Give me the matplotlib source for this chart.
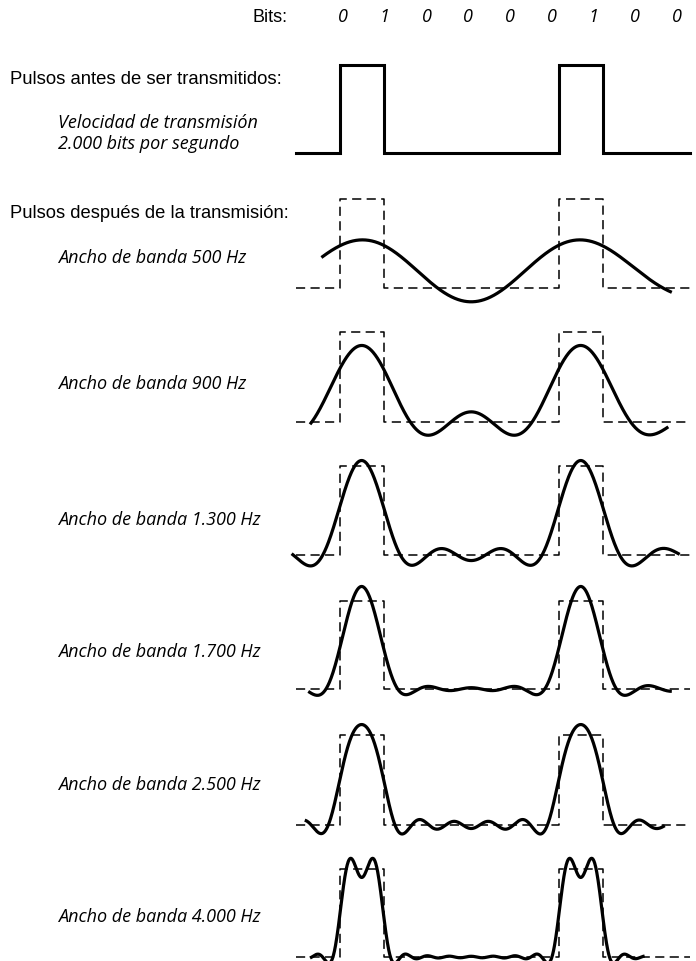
import matplotlib.pyplot as plt
import numpy as np

# data
bits = [0, 1, 0, 0, 0, 0, 1, 0, 0]
bit_rate = 2000                      # bits per second -> 0.5 ms per bit
bandwidths = [500, 900, 1300, 1700, 2500, 4000]
bw_labels = ['500', '900', '1.300', '1.700', '2.500', '4.000']
curve_start_ms = [0.29, 0.16, -0.05, 0.14, 0.10, 0.16]
curve_end_ms = [4.29, 4.25, 4.38, 4.29, 4.21, 3.98]

W, H = 696, 962
fig = plt.figure(figsize=(W / 100, H / 100), dpi=100)

sans = 'Liberation Sans'
ital = 'Open Sans'

bit_ms = 1000.0 / bit_rate

# layout in pixels (top of pulse, baseline) for each row
rows_px = [(66, 154), (200, 289), (333, 423), (467, 556),
           (602, 690), (736, 826), (870, 958)]
label_y_px = [258, 384, 520, 652, 785, 917]
x0_px = 296
px_per_ms = 87.6
t_left = -x0_px / px_per_ms
t_right = (W - x0_px) / px_per_ms

# sine integral Si(x) by cumulative trapezoid
_u = np.linspace(0, 300, 300001)
_f = np.sinc(_u / np.pi)
_si = np.concatenate([[0], np.cumsum((_f[1:] + _f[:-1]) / 2 * np.diff(_u))])


def Si(x):
    return np.sign(x) * np.interp(np.abs(x), _u, _si)


def row_axes(top, base):
    h = base - top
    lo, hi = -0.45, 1.45
    y0 = base + (-lo) * h
    y1 = base - hi * h
    ax = fig.add_axes([0, 1 - y0 / H, 1, (y0 - y1) / H])
    ax.set_xlim(t_left, t_right)
    ax.set_ylim(lo, hi)
    ax.axis('off')
    return ax


def bandlimited(t, bw):
    # bit string passed through an ideal low-pass channel of bandwidth bw
    k = 2 * np.pi * bw / 1000.0      # t in ms
    s = np.zeros_like(t)
    for j, b in enumerate(bits):
        if b:
            a = j * bit_ms
            s += (Si(k * (t - a)) - Si(k * (t - a - bit_ms))) / np.pi
    return s


sq_x = np.arange(len(bits) + 1) * bit_ms
sq_y = bits + [bits[-1]]

# original pulses
ax0 = row_axes(*rows_px[0])
ax0.step(sq_x, sq_y, where='post', color='black', lw=2.2, solid_joinstyle='miter')

for i, bw in enumerate(bandwidths):
    ax = row_axes(*rows_px[i + 1])
    ax.step(sq_x, sq_y, where='post', color='black', lw=1.1, linestyle=(0, (6, 3.5)))
    t = np.linspace(curve_start_ms[i], curve_end_ms[i], 1000)
    ax.plot(t, bandlimited(t, bw), color='black', lw=2.3, solid_capstyle='butt')
    fig.text(58 / W, 1 - label_y_px[i] / H,
             'Ancho de banda %s Hz' % bw_labels[i],
             family=ital, style='italic', fontsize=13, va='center', ha='left')

# header texts
fig.text(287 / W, 1 - 17 / H, 'Bits:', family=sans, fontsize=13, ha='right', va='center')
for i, b in enumerate(bits):
    fig.text((343 + 41.7 * i) / W, 1 - 17 / H, str(b), family=ital, style='italic',
             fontsize=13, ha='center', va='center')

fig.text(10 / W, 1 - 80 / H, 'Pulsos antes de ser transmitidos:', family=sans,
         fontsize=13.3, ha='left', va='center')
fig.text(58 / W, 1 - 123 / H, 'Velocidad de transmisión', family=ital, style='italic',
         fontsize=13, ha='left', va='center')
fig.text(58 / W, 1 - 144 / H, '2.000 bits por segundo', family=ital, style='italic',
         fontsize=13, ha='left', va='center')
fig.text(10 / W, 1 - 214 / H, 'Pulsos después de la transmisión:', family=sans,
         fontsize=13.2, ha='left', va='center')

fig.savefig('out.png', dpi=100)
